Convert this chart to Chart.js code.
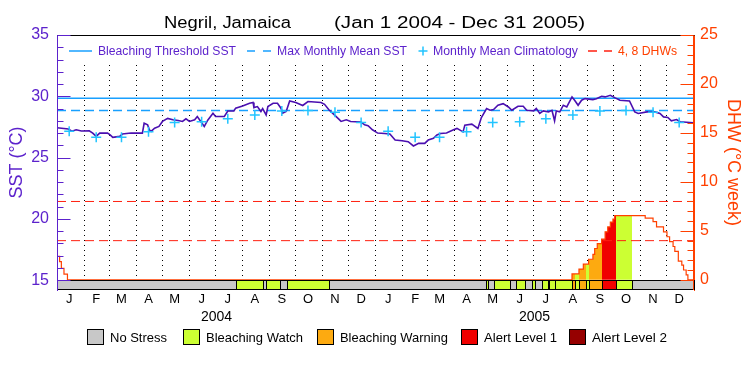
<!DOCTYPE html>
<html>
<head>
<meta charset="utf-8">
<title>Negril, Jamaica</title>
<script src="https://cdn.jsdelivr.net/npm/chart.js@4.4.1/dist/chart.umd.min.js"></script>
<style>
  html, body { margin: 0; padding: 0; background: #fff; }
  #wrap { width: 750px; height: 375px; }
</style>
</head>
<body>
<div id="wrap"><canvas id="chart" width="750" height="375"></canvas></div>
<script>
// --- data (days counted from Jan 1 2004) ---
const sstDays = [0, 13, 17, 22, 28, 37, 41, 45, 49, 58, 61, 64, 72, 75, 85, 98, 100, 104, 106, 108,
  112, 117, 121, 127, 133, 139, 144, 148, 152, 158, 161, 165, 169, 173, 179, 182, 192, 196, 203, 205,
  213, 221, 225, 226, 230, 234, 236, 240, 242, 248, 253, 257, 259, 263, 267, 274, 282, 288, 303, 307,
  312, 318, 324, 326, 332, 337, 349, 353, 357, 362, 368, 376, 382, 388, 396, 403, 409, 415, 422, 426,
  432, 436, 440, 447, 455, 459, 466, 468, 476, 483, 487, 493, 497, 501, 506, 512, 518, 522, 529, 535,
  539, 547, 550, 554, 558, 564, 568, 571, 573, 577, 581, 585, 591, 594, 598, 602, 606, 615, 619, 625,
  629, 635, 640, 646, 657, 663, 667, 677, 686, 692, 696, 701, 705, 711, 715, 730];
const sstValues = [27.43, 27.33, 27.15, 27.27, 27.17, 27.19, 27.0, 26.73, 27.0, 27.0, 26.85, 26.65, 26.73, 26.92, 27.0, 27.0, 27.8, 27.67, 27.27, 27.14,
  27.4, 27.54, 27.95, 28.2, 28.08, 28.03, 27.95, 28.16, 27.95, 28.08, 28.35, 27.95, 27.54, 28.05, 28.62, 28.35, 28.35, 28.8, 28.8, 29.03,
  29.2, 29.43, 29.5, 29.08, 29.16, 28.76, 29.0, 28.48, 29.16, 29.43, 29.43, 29.03, 28.62, 28.76, 29.62, 29.5, 29.25, 29.57, 29.5, 29.35,
  28.9, 28.5, 28.1, 27.95, 28.08, 27.95, 27.9, 27.67, 27.6, 27.27, 27.0, 26.97, 26.92, 26.43, 26.38, 26.3, 25.95, 26.16, 26.16, 26.43,
  26.57, 26.84, 26.97, 27.0, 27.27, 27.38, 27.1, 27.65, 27.73, 27.38, 28.27, 29.0, 28.86, 28.92, 29.27, 29.4, 29.13, 28.86, 29.19, 29.19,
  28.86, 28.81, 29.0, 28.6, 28.81, 28.73, 28.86, 28.0, 28.81, 28.73, 29.27, 29.13, 29.95, 29.68, 29.27, 29.68, 29.81, 29.73, 29.8, 30.0,
  29.95, 30.08, 29.89, 29.68, 29.62, 28.73, 28.6, 28.73, 28.73, 28.6, 28.32, 28.27, 28.0, 28.1, 27.92, 27.84];

// monthly mean climatology, Jan..Dec
const climValues = [27.14, 26.65, 26.65, 27.1, 27.87, 27.92, 28.17, 28.47, 28.81, 28.84, 28.7, 27.87];
const mmmValue = 28.84;
const thresholdValue = 29.84;

const dhwDays = [0, 3, 5, 8, 12, 591, 599, 604, 610, 615, 617, 620, 625, 629, 632, 635, 638, 640,
  675, 684, 688, 696, 700, 703, 707, 709, 713, 717, 719, 722, 724, 731];
const dhwValues = [2.4, 1.85, 1.17, 0.59, 0, 0.6, 1.1, 1.6, 2.1, 2.6, 3.2, 3.7, 4.15, 4.9, 5.4, 5.9, 6.2, 6.55,
  6.3, 5.95, 5.4, 4.9, 4.4, 3.9, 3.4, 2.9, 1.9, 1.5, 1.0, 0.5, 0, 0];
const dhwLevels = [4, 8];

// stress level per period: 0 no stress, 1 watch, 2 warning, 3 alert 1, 4 alert 2
const stressStart = [0, 205, 236, 240, 256, 264, 312, 492, 495, 502, 520, 527, 537, 545, 549, 556, 563, 565, 571, 591, 594, 599, 607, 610, 625, 642, 660];
const stressEnd   = [205, 236, 240, 256, 264, 312, 492, 495, 502, 520, 527, 537, 545, 549, 556, 563, 565, 571, 591, 594, 599, 607, 610, 625, 642, 660, 731];
const stressLevel = [0, 1, 0, 1, 0, 1, 0, 1, 0, 1, 0, 1, 0, 1, 0, 1, 0, 1, 1, 2, 1, 2, 1, 2, 3, 1, 0];
const stressNames = ['No Stress', 'Bleaching Watch', 'Bleaching Warning', 'Alert Level 1', 'Alert Level 2'];
const stressColors = ['#c8c8c8', '#ccff33', '#fdaa10', '#f00000', '#960000'];

const monthLabels = ['J', 'F', 'M', 'A', 'M', 'J', 'J', 'A', 'S', 'O', 'N', 'D'];
const yearLabels = ['2004', '2005'];
const sstTicks = [15, 20, 25, 30, 35];
const dhwTicks = [0, 5, 10, 15, 20, 25];

// --- helpers ---
const FONT = '"Liberation Sans", Arial, sans-serif';
const PURPLE = '#5c22cc';
const SSTLINE = '#4a0fb0';
const BLUE = '#18a0ff';
const CYAN = '#22c4ff';
const ORANGE = '#ff4000';
const RED = '#ff2010';

function dayIndex(y, m, d) {
    return Math.round((Date.UTC(y, m, d) - Date.UTC(2004, 0, 1)) / 86400000);
}
const totalDays = dayIndex(2006, 0, 1);
const monthStarts = [];
const monthMids = [];
for (let y = 2004; y <= 2005; y++) {
    for (let m = 0; m < 12; m++) {
        if (y > 2004 || m > 0) monthStarts.push(dayIndex(y, m, 1));
        monthMids.push(dayIndex(y, m, 15));
    }
}
const yearMids = [dayIndex(2004, 6, 2), dayIndex(2005, 6, 2)];

const sstPoints = sstDays.map((d, i) => ({ x: d, y: sstValues[i] }));
const climPoints = monthMids.map((d, i) => ({ x: d, y: climValues[i % 12] }));
const dhwPoints = dhwDays.map((d, i) => ({ x: d, y: dhwValues[i] }));
const flat = (v) => [{ x: 0, y: v }, { x: totalDays, y: v }];

// fill under the DHW curve, coloured by stress level
function dhwFill(context) {
    const chart = context.chart;
    const area = chart.chartArea;
    const xs = chart.scales.x;
    if (!area || !xs) return 'rgba(255,255,255,0)';
    const g = chart.ctx.createLinearGradient(area.left, 0, area.right, 0);
    const w = area.right - area.left;
    const frac = (d) => Math.min(1, Math.max(0, (xs.getPixelForValue(d) - area.left) / w));
    stressStart.forEach((s, i) => {
        const c = stressLevel[i] > 0 ? stressColors[stressLevel[i]] : 'rgba(255,255,255,0)';
        g.addColorStop(frac(s), c);
        g.addColorStop(frac(stressEnd[i]), c);
    });
    return g;
}

function fitText(ctx, text, x0, x1, baseline, font, color) {
    ctx.save();
    ctx.font = font;
    ctx.fillStyle = color;
    ctx.textAlign = 'left';
    ctx.textBaseline = 'alphabetic';
    const w = ctx.measureText(text).width;
    ctx.translate(x0, baseline);
    ctx.scale((x1 - x0) / w, 1);
    ctx.fillText(text, 0, 0);
    ctx.restore();
}

function hLine(ctx, x0, x1, y, color, width, dash) {
    ctx.save();
    ctx.strokeStyle = color;
    ctx.lineWidth = width;
    ctx.setLineDash(dash || []);
    ctx.beginPath();
    ctx.moveTo(x0, y);
    ctx.lineTo(x1, y);
    ctx.stroke();
    ctx.restore();
}

// decorations: legend, title, stress bar, inward ticks
const decorPlugin = {
    id: 'decor',
    beforeDraw(chart) {
        const c = chart.ctx;
        c.save();
        c.fillStyle = '#fff';
        c.fillRect(0, 0, chart.width, chart.height);
        c.restore();
    },
    afterDraw(chart) {
        const c = chart.ctx;
        const a = chart.chartArea;
        const xs = chart.scales.x;
        const ys = chart.scales.y;
        const ds = chart.scales.dhw;
        const L = Math.round(a.left) + 0.5;
        const R = Math.round(a.right) - 0.5;
        const T = Math.round(a.top) + 0.5;
        const B = Math.round(a.bottom) - 0.5;

        // clear the strip behind the in-plot legend
        c.fillStyle = '#fff';
        c.fillRect(L + 1, T + 0.5, R - L - 2, 26);

        // top frame
        hLine(c, L, R + 1, T, '#000', 1);

        // stress bar
        const barTop = Math.round(ys.getPixelForValue(15)) + 0.5;
        c.save();
        c.lineWidth = 1;
        c.strokeStyle = '#000';
        stressStart.forEach((s, i) => {
            const x0 = Math.round(xs.getPixelForValue(s)) + 0.5;
            const x1 = Math.round(xs.getPixelForValue(stressEnd[i])) + 0.5;
            c.fillStyle = stressColors[stressLevel[i]];
            c.fillRect(x0, barTop, x1 - x0, B - barTop);
            c.strokeRect(x0, barTop, x1 - x0, B - barTop);
        });
        c.restore();

        // inward ticks
        c.save();
        c.lineWidth = 1;
        c.strokeStyle = PURPLE;
        c.beginPath();
        for (let v = 15; v <= 35; v++) {
            const y = Math.round(ys.getPixelForValue(v)) + 0.5;
            c.moveTo(L, y);
            c.lineTo(L + (v % 5 === 0 ? 13 : 6), y);
        }
        c.stroke();
        c.strokeStyle = ORANGE;
        c.beginPath();
        for (let v = 0; v <= 25; v++) {
            const y = Math.round(ds.getPixelForValue(v)) + 0.5;
            c.moveTo(R, y);
            c.lineTo(R - (v % 5 === 0 ? 13 : 6), y);
        }
        c.stroke();
        // axis lines
        c.strokeStyle = PURPLE;
        c.beginPath(); c.moveTo(L, T); c.lineTo(L, B + 0.5); c.stroke();
        c.strokeStyle = ORANGE;
        c.beginPath(); c.moveTo(R, T); c.lineTo(R, B + 0.5); c.stroke();
        c.restore();

        // in-plot legend
        const lf = '12.5px ' + FONT;
        const ly = 51;
        hLine(c, 69, 92, ly, BLUE, 1.5);
        fitText(c, 'Bleaching Threshold SST', 98, 236, 55, lf, PURPLE);
        hLine(c, 247, 271, ly, BLUE, 1.5, [8, 8]);
        fitText(c, 'Max Monthly Mean SST', 277, 407, 55, lf, PURPLE);
        c.save();
        c.strokeStyle = CYAN;
        c.lineWidth = 1.5;
        c.beginPath();
        c.moveTo(418.5, ly); c.lineTo(427.5, ly);
        c.moveTo(423, ly - 4.5); c.lineTo(423, ly + 4.5);
        c.stroke();
        c.restore();
        fitText(c, 'Monthly Mean Climatology', 433, 578, 55, lf, PURPLE);
        hLine(c, 588, 612, ly, RED, 1.5, [9, 7]);
        fitText(c, '4, 8 DHWs', 618, 677, 55, lf, ORANGE);

        // title
        fitText(c, 'Negril, Jamaica', 164, 291, 28, '16px ' + FONT, '#000');
        fitText(c, '(Jan 1 2004 - Dec 31 2005)', 334, 585, 28, '16px ' + FONT, '#000');

        // stress legend
        const boxX = [87, 183, 317, 461, 569];
        const textX = [[110, 167], [206, 303], [340, 448], [484, 557], [592, 667]];
        c.save();
        c.lineWidth = 1;
        c.strokeStyle = '#000';
        stressNames.forEach((name, i) => {
            c.fillStyle = stressColors[i];
            c.fillRect(boxX[i] + 0.5, 329.5, 16, 15);
            c.strokeRect(boxX[i] + 0.5, 329.5, 16, 15);
            fitText(c, name, textX[i][0], textX[i][1], 341.5, '13px ' + FONT, '#000');
        });
        c.restore();
    }
};

new Chart(document.getElementById('chart').getContext('2d'), {
    type: 'line',
    data: {
        datasets: [
            {
                label: 'Monthly Mean Climatology',
                data: climPoints,
                showLine: false,
                pointStyle: 'cross',
                pointRadius: 5,
                pointBorderWidth: 1.5,
                borderColor: CYAN,
                backgroundColor: CYAN
            },
            {
                label: 'SST',
                data: sstPoints,
                borderColor: SSTLINE,
                borderWidth: 1.6,
                pointRadius: 0
            },
            {
                label: 'Bleaching Threshold SST',
                data: flat(thresholdValue),
                borderColor: BLUE,
                borderWidth: 1.5,
                pointRadius: 0
            },
            {
                label: 'Max Monthly Mean SST',
                data: flat(mmmValue),
                borderColor: BLUE,
                borderWidth: 1.5,
                borderDash: [9, 5],
                pointRadius: 0
            },
            ...dhwLevels.map(v => ({
                label: v + ' DHW',
                data: flat(v),
                yAxisID: 'dhw',
                borderColor: RED,
                borderWidth: 1,
                borderDash: [9, 5],
                pointRadius: 0
            })),
            {
                label: 'DHW',
                data: dhwPoints,
                yAxisID: 'dhw',
                stepped: 'before',
                borderColor: ORANGE,
                borderWidth: 1.2,
                pointRadius: 0,
                fill: 'origin',
                backgroundColor: dhwFill
            }
        ]
    },
    options: {
        responsive: false,
        animation: false,
        devicePixelRatio: 1,
        layout: { padding: { top: 35, bottom: 49, left: 0, right: 0 } },
        plugins: {
            legend: { display: false },
            tooltip: { enabled: false },
            title: { display: false }
        },
        scales: {
            x: {
                type: 'linear', position: 'bottom', min: 0, max: totalDays, z: 1,
                afterBuildTicks: s => { s.ticks = monthStarts.map(v => ({ value: v })); },
                afterFit: s => { s.height = 0; },
                ticks: { display: false },
                grid: { color: '#000', lineWidth: 1, drawTicks: false },
                border: { display: false, dash: [1, 4] }
            },
            xm: {
                type: 'linear', position: 'bottom', min: 0, max: totalDays,
                afterBuildTicks: s => { s.ticks = monthMids.map(v => ({ value: v })); },
                afterFit: s => { s.height = 18; },
                ticks: {
                    autoSkip: false, maxRotation: 0, padding: 2, color: '#000',
                    font: { family: FONT, size: 13 },
                    callback: (v, i) => monthLabels[i % 12]
                },
                grid: { display: false, drawTicks: false },
                border: { display: false }
            },
            xy: {
                type: 'linear', position: 'bottom', min: 0, max: totalDays,
                afterBuildTicks: s => { s.ticks = yearMids.map(v => ({ value: v })); },
                afterFit: s => { s.height = 18; },
                ticks: {
                    autoSkip: false, maxRotation: 0, padding: 1, color: '#000',
                    font: { family: FONT, size: 14 },
                    callback: (v, i) => yearLabels[i]
                },
                grid: { display: false, drawTicks: false },
                border: { display: false }
            },
            y: {
                position: 'left', min: 14.2, max: 35,
                afterBuildTicks: s => { s.ticks = sstTicks.map(v => ({ value: v })); },
                afterFit: s => { s.width = 57; },
                ticks: { color: PURPLE, padding: 8, font: { family: FONT, size: 16 } },
                grid: { display: false, drawTicks: false },
                border: { color: PURPLE, width: 1 },
                title: { display: true, text: 'SST (°C)', color: PURPLE, font: { family: FONT, size: 18 }, padding: { top: 6, bottom: 0 } }
            },
            dhw: {
                position: 'right', min: -1.04, max: 25,
                afterBuildTicks: s => { s.ticks = dhwTicks.map(v => ({ value: v })); },
                afterFit: s => { s.width = 56; },
                ticks: { color: ORANGE, padding: 6, font: { family: FONT, size: 16 } },
                grid: { display: false, drawTicks: false },
                border: { color: ORANGE, width: 1 },
                title: { display: true, text: 'DHW (°C week)', color: ORANGE, font: { family: FONT, size: 18 }, padding: { top: 6, bottom: 0 } }
            }
        }
    },
    plugins: [decorPlugin]
});
</script>
</body>
</html>
